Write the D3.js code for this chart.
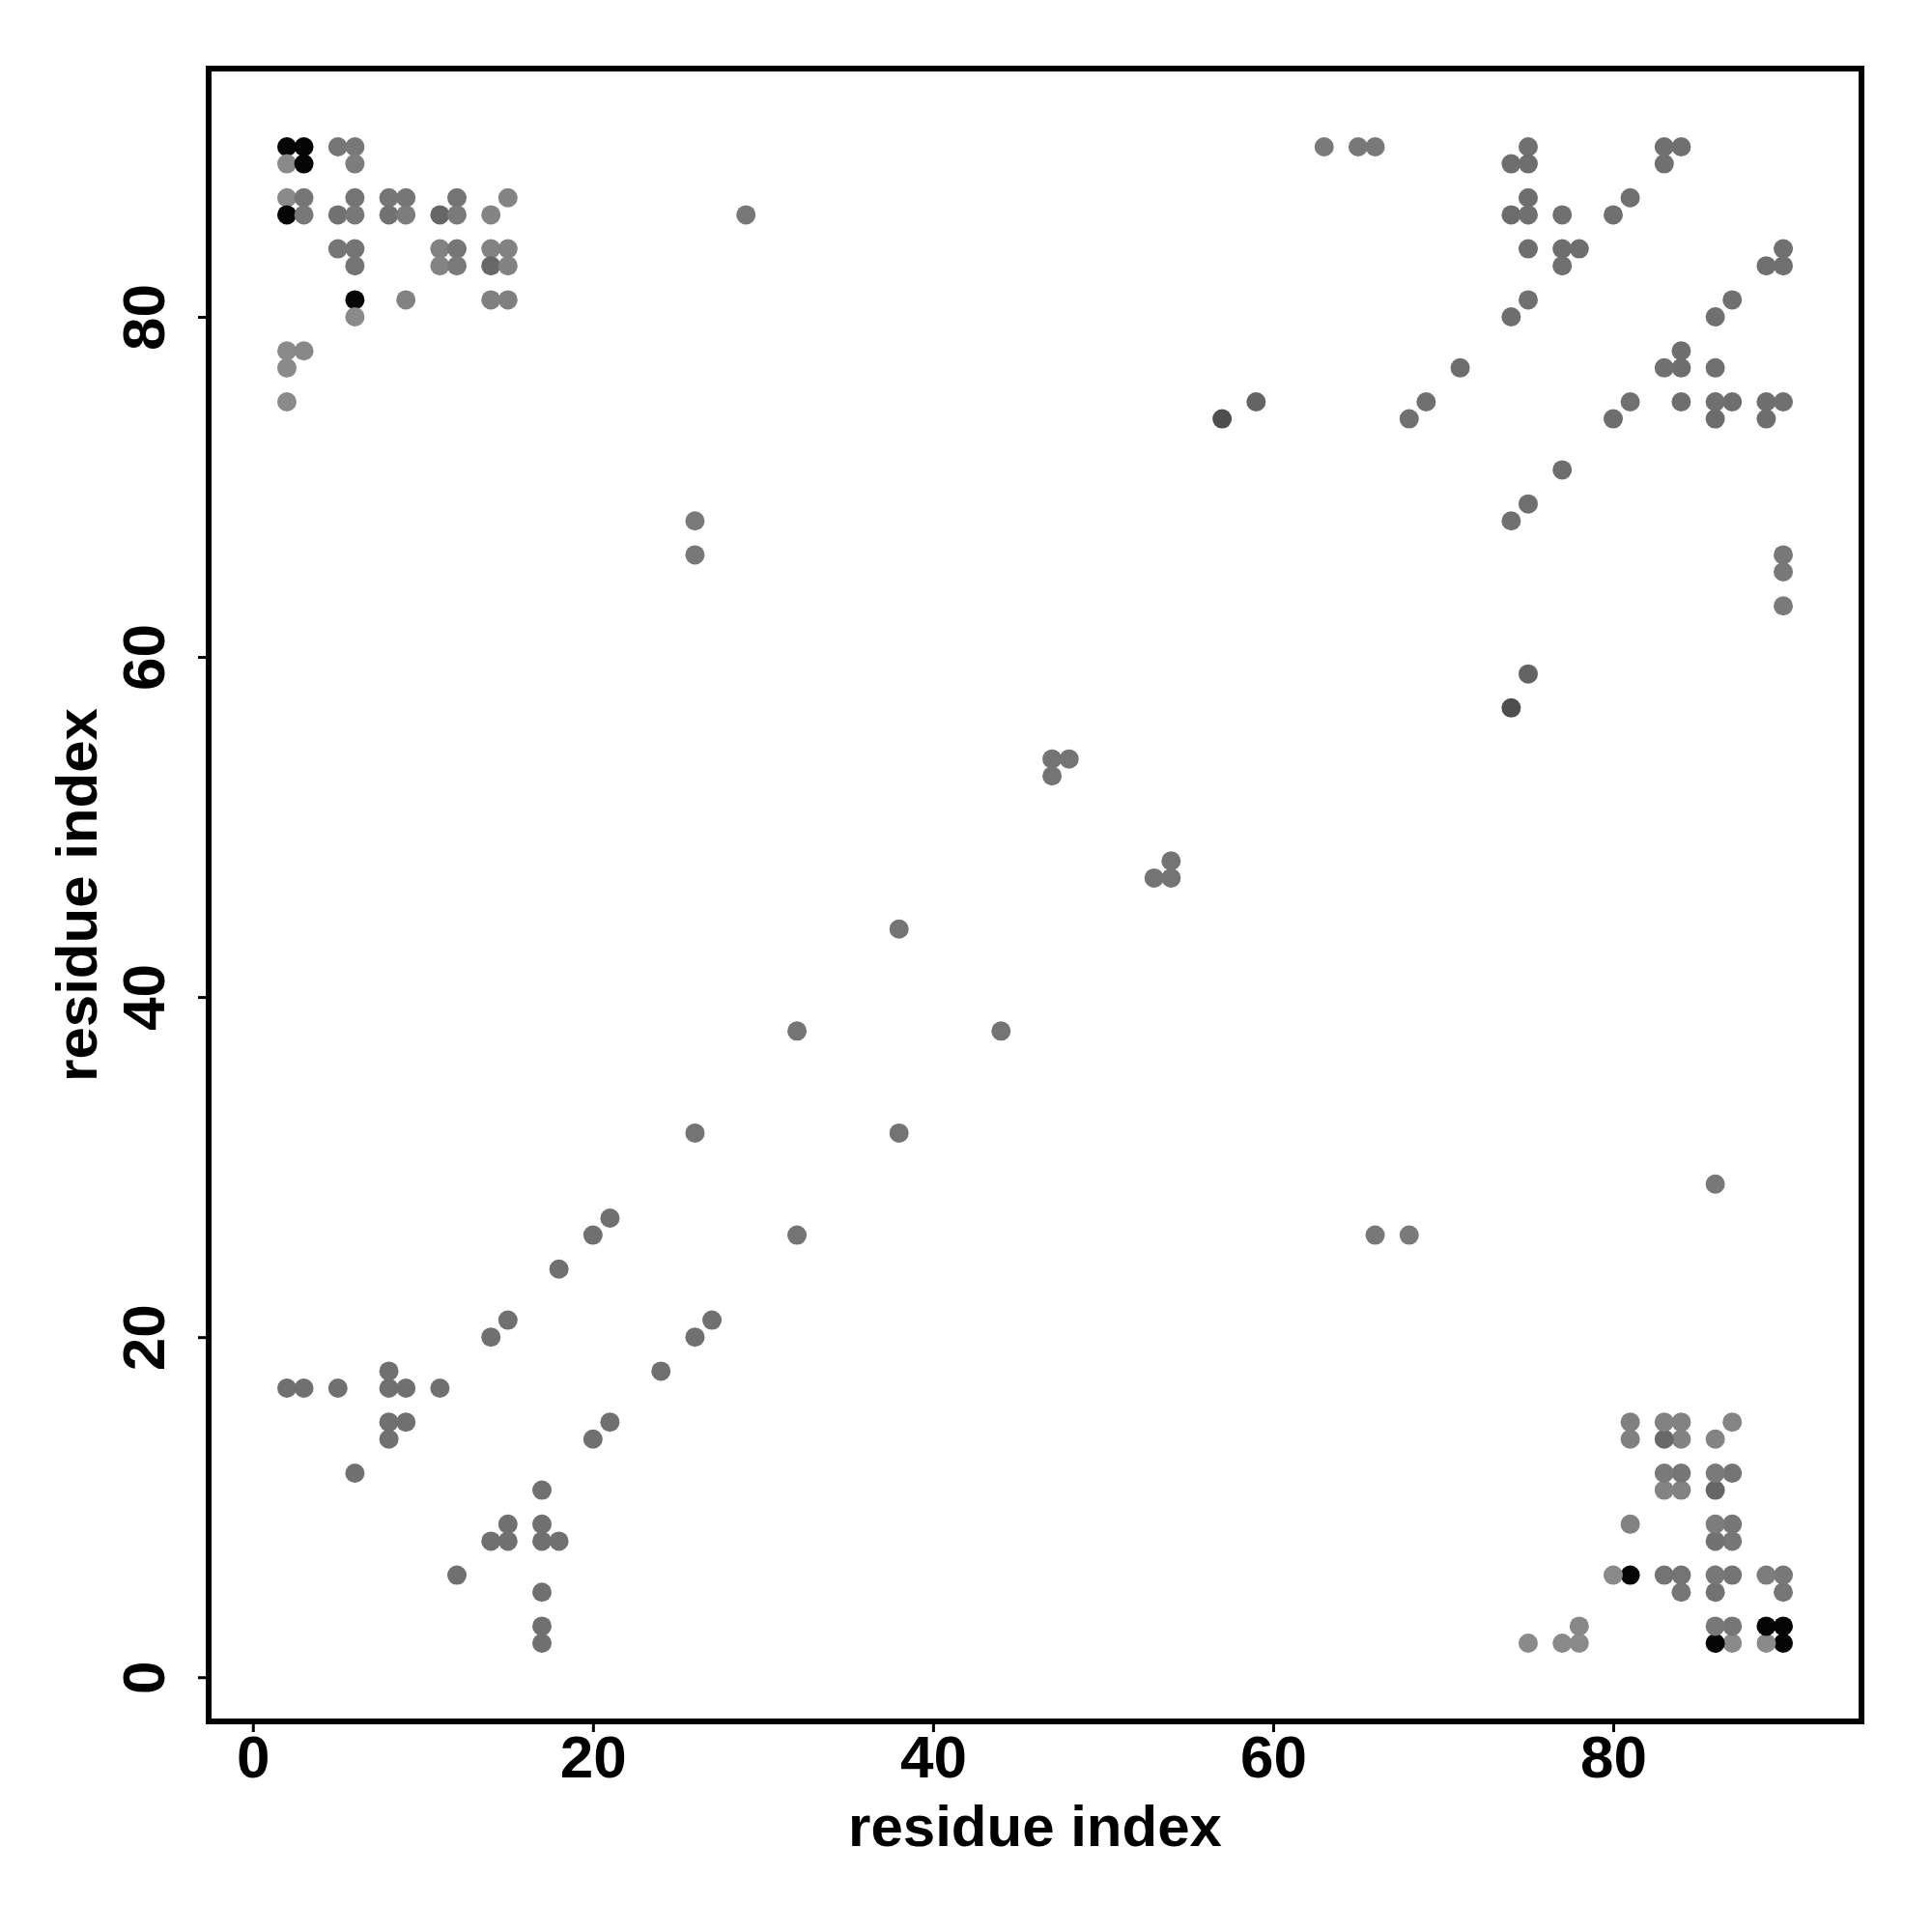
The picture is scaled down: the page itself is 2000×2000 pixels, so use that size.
<!DOCTYPE html>
<html>
<head>
<meta charset="utf-8">
<script src="https://cdn.jsdelivr.net/npm/d3@7"></script>
<style>
  body { margin: 0; background: #fff; }
  text { font-family: "Liberation Sans", Arial, Helvetica, sans-serif; font-weight: bold; }
</style>
</head>
<body>
<svg id="contacts" width="2000" height="2000"></svg>
<script>

// residue pairs in contact (i < j), the map is symmetric so each pair is drawn twice
const contactI = [
    2, 3, 5, 6, 2, 3, 6, 2, 3, 6, 8, 9, 12, 15,
    2, 3, 5, 6, 8, 9, 11, 12, 14, 29,
    5, 6, 11, 12, 14, 15, 6, 11, 12, 14, 15,
    6, 9, 14, 15, 6, 2, 3, 2, 2,
    63, 65, 66, 75, 83, 84, 74, 75, 83, 75, 81,
    74, 75, 77, 80, 75, 77, 78, 77, 75, 74, 71, 59, 69, 57, 68,
    26, 26, 47, 48, 47, 38, 32, 26, 18, 20, 21, 14, 15,
    2, 3, 5, 8, 9, 11, 8, 8, 9, 8, 6
];
const contactJ = [
    90, 90, 90, 90, 89, 89, 89, 87, 87, 87, 87, 87, 87, 87,
    86, 86, 86, 86, 86, 86, 86, 86, 86, 86,
    84, 84, 84, 84, 84, 84, 83, 83, 83, 83, 83,
    81, 81, 81, 81, 80, 78, 78, 77, 75,
    90, 90, 90, 90, 90, 90, 89, 89, 89, 87, 87,
    86, 86, 86, 86, 84, 84, 84, 83, 81, 80, 77, 75, 75, 74, 74,
    68, 66, 54, 54, 53, 44, 38, 32, 24, 26, 27, 20, 21,
    17, 17, 17, 17, 17, 17, 18, 15, 15, 14, 12
];
// grey level of each pair (0 = black, 255 = white)
const contactGrey = [
    5, 5, 118, 120, 138, 5, 125, 138, 118, 116, 118, 118, 116, 132,
    5, 120, 114, 120, 114, 125, 102, 122, 132, 120,
    118, 116, 130, 118, 130, 130, 116, 132, 122, 104, 130,
    5, 130, 128, 128, 138, 138, 136, 138, 138,
    122, 120, 120, 112, 112, 112, 110, 110, 112, 110, 112,
    108, 112, 112, 112, 110, 110, 110, 112, 112, 110, 110, 100, 112, 78, 112,
    122, 120, 116, 116, 116, 116, 116, 116, 112, 112, 112, 112, 112,
    112, 112, 112, 112, 112, 112, 112, 112, 112, 112, 112
];

const axisTicks = [0, 20, 40, 60, 80];
const axisLimits = [-2.6, 94.6];
const axisTitle = "residue index";

const svg = d3.select('#contacts');

const box = {left: 216, right: 1927, top: 71, bottom: 1782};
const fontSize = 60;

const x = d3.scaleLinear().domain(axisLimits).range([box.left, box.right]);
const y = d3.scaleLinear().domain(axisLimits).range([box.bottom, box.top]);

// both halves of the map
let points = [];
contactI.forEach((d, k) => {
    points.push({i: d, j: contactJ[k], g: contactGrey[k]});
    points.push({i: contactJ[k], j: d, g: contactGrey[k]});
});

svg.append('g')
    .selectAll('circle')
    .data(points)
    .enter().append('circle')
        .attr('cx', d => x(d.i))
        .attr('cy', d => y(d.j))
        .attr('r', 10)
        .attr('fill', d => d3.rgb(d.g, d.g, d.g));

// axes
const xAxis = svg.append('g')
    .attr('transform', `translate(0,${box.bottom})`)
    .call(d3.axisBottom(x).tickValues(axisTicks).tickSize(11).tickFormat(d3.format('d')));

xAxis.select('.domain').remove();
xAxis.selectAll('line').attr('stroke', '#000').attr('stroke-width', 3);
xAxis.selectAll('text')
    .attr('y', 58)
    .attr('dy', null)
    .attr('fill', '#000')
    .style('font-size', '62px');

const yAxis = svg.append('g')
    .attr('transform', `translate(${box.left},0)`)
    .call(d3.axisLeft(y).tickValues(axisTicks).tickSize(11).tickFormat(d3.format('d')));

yAxis.select('.domain').remove();
yAxis.selectAll('line').attr('stroke', '#000').attr('stroke-width', 3);
yAxis.selectAll('text')
    .attr('x', 0)
    .attr('y', 0)
    .attr('dy', null)
    .attr('text-anchor', 'middle')
    .attr('transform', 'translate(-46,0) rotate(-90)')
    .attr('fill', '#000')
    .style('font-size', '62px');

// frame
svg.append('rect')
    .attr('x', box.left)
    .attr('y', box.top)
    .attr('width', box.right - box.left)
    .attr('height', box.bottom - box.top)
    .attr('fill', 'none')
    .attr('stroke', '#000')
    .attr('stroke-width', 6);

// axis titles
svg.append('text')
    .attr('x', (box.left + box.right) / 2)
    .attr('y', 1911)
    .attr('text-anchor', 'middle')
    .style('font-size', fontSize + 'px')
    .text(axisTitle);

svg.append('text')
    .attr('transform', `translate(100,${(box.top + box.bottom) / 2}) rotate(-90)`)
    .attr('text-anchor', 'middle')
    .style('font-size', fontSize + 'px')
    .text(axisTitle);

</script>
</body>
</html>
